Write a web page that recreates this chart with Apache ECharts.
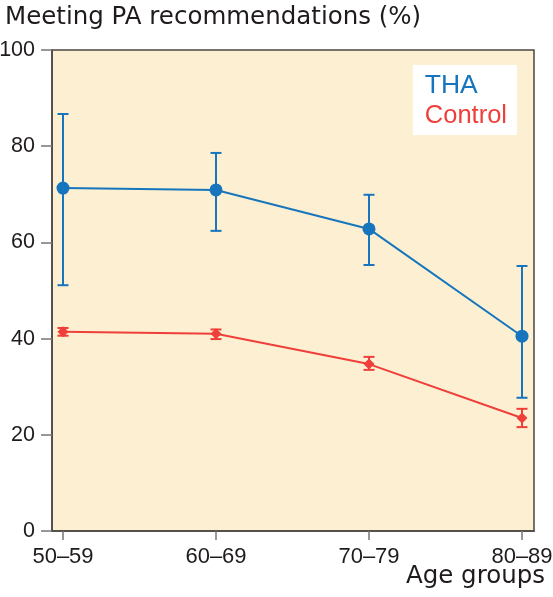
<!DOCTYPE html>
<html>
<head>
<meta charset="utf-8">
<script src="https://cdn.jsdelivr.net/npm/echarts@6/dist/echarts.min.js"></script>
<style>html,body{margin:0;padding:0;background:#fff}#c{width:553px;height:597px}</style>
</head>
<body>
<div id="c"></div>
<script>
const categories = ['50–59', '60–69', '70–79', '80–89'];
const thaMean = [71.3, 70.9, 62.8, 40.5];
const thaLow = [51.1, 62.4, 55.3, 27.7];
const thaHigh = [86.7, 78.6, 69.9, 55.1];
const ctrlMean = [41.4, 41.0, 34.7, 23.5];
const ctrlLow = [40.6, 39.9, 33.5, 21.6];
const ctrlHigh = [42.2, 41.9, 36.2, 25.4];
const yTicks = [0, 20, 40, 60, 80, 100];

const BLUE = '#1675bc';
const RED = '#ee3f3a';
const FONT = 'Liberation Sans, Arial, Helvetica, sans-serif';
const WIDE = 'DejaVu Sans, sans-serif';
const TXT = '#1f1b1c';

function errSeries(name, low, high, color, cap) {
  return {
    type: 'custom',
    name: name + ' error',
    z: 3,
    data: low.map((l, i) => [i, l, high[i]]),
    renderItem: function (params, api) {
      const x = api.value(0);
      const p1 = api.coord([x, api.value(1)]);
      const p2 = api.coord([x, api.value(2)]);
      const st = { stroke: color, lineWidth: 2 };
      return {
        type: 'group',
        children: [
          { type: 'line', shape: { x1: p1[0], y1: p1[1], x2: p2[0], y2: p2[1] }, style: st },
          { type: 'line', shape: { x1: p1[0] - cap, y1: p1[1], x2: p1[0] + cap, y2: p1[1] }, style: st },
          { type: 'line', shape: { x1: p2[0] - cap, y1: p2[1], x2: p2[0] + cap, y2: p2[1] }, style: st }
        ]
      };
    }
  };
}

const chart = echarts.init(document.getElementById('c'), null, { renderer: 'canvas' });
chart.setOption({
  animation: false,
  backgroundColor: '#fff',
  textStyle: { fontFamily: FONT },
  grid: {
    left: 52, right: 19, top: 50, bottom: 66,
    outerBoundsMode: 'none', containLabel: false,
    show: true, backgroundColor: '#fdf0d2', borderColor: '#4a4542', borderWidth: 1.5
  },
  title: [
    { text: 'Meeting PA recommendations (%)', left: 0, top: 0,
      textStyle: { fontFamily: WIDE, fontSize: 24.5, fontWeight: 'normal', color: TXT } },
    { text: 'Age groups', right: 3, top: 559,
      textStyle: { fontFamily: WIDE, fontSize: 24.5, fontWeight: 'normal', color: TXT } }
  ],
  legend: {
    orient: 'vertical',
    right: 36, top: 65,
    backgroundColor: '#fff',
    padding: [7, 10, 6, 7],
    itemGap: 4,
    icon: 'none',
    itemWidth: 0,
    selectedMode: false,
    data: [
      { name: 'THA', textStyle: { color: BLUE, fontSize: 26.5, fontFamily: FONT } },
      { name: 'Control', textStyle: { color: RED, fontSize: 25.5, fontFamily: FONT } }
    ]
  },
  xAxis: {
    type: 'value',
    min: -11 / 153, max: 3 + 12 / 153,
    splitLine: { show: false },
    axisLine: { show: true, onZero: false, lineStyle: { color: '#4a4542', width: 1.5 } },
    axisTick: { show: true, length: 9, inside: false, customValues: [0, 1, 2, 3], lineStyle: { color: '#777', width: 1.5 } },
    axisLabel: {
      customValues: [0, 1, 2, 3],
      formatter: v => categories[Math.round(v)],
      fontSize: 22, color: TXT, margin: 15, fontFamily: FONT
    }
  },
  yAxis: {
    type: 'value', min: 0, max: 100, interval: 20,
    splitLine: { show: false },
    axisLine: { show: true, onZero: false, lineStyle: { color: '#4a4542', width: 1.5 } },
    axisTick: { show: true, length: 11, inside: false, customValues: yTicks, lineStyle: { color: '#777', width: 1.5 } },
    axisLabel: { fontSize: 21.5, color: TXT, margin: 17, fontFamily: FONT, customValues: yTicks }
  },
  series: [
    errSeries('THA', thaLow, thaHigh, BLUE, 5.5),
    errSeries('Control', ctrlLow, ctrlHigh, RED, 5.5),
    {
      name: 'THA', type: 'line', z: 4,
      data: thaMean.map((v, i) => [i, v]),
      symbol: 'circle', symbolSize: 13,
      lineStyle: { color: BLUE, width: 2 },
      itemStyle: { color: BLUE }
    },
    {
      name: 'Control', type: 'line', z: 4,
      data: ctrlMean.map((v, i) => [i, v]),
      symbol: 'diamond', symbolSize: 11,
      lineStyle: { color: RED, width: 2 },
      itemStyle: { color: RED }
    }
  ]
});
</script>
</body>
</html>
